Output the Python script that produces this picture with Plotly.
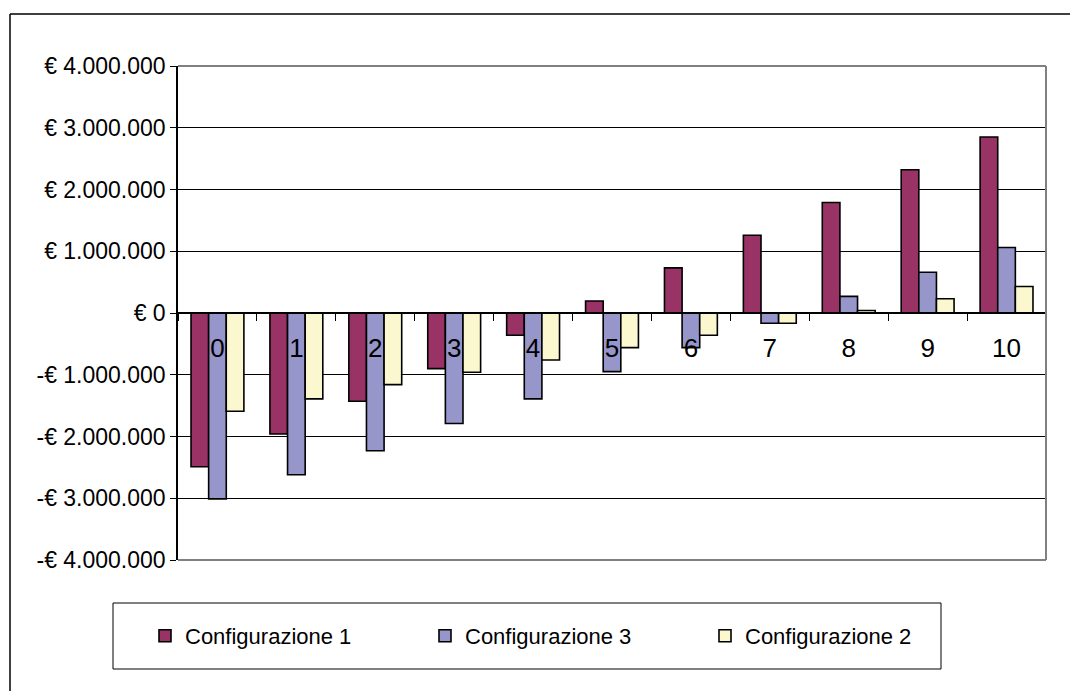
import plotly.graph_objects as go

# ── data ──────────────────────────────────────────────────
categories = ["0", "1", "2", "3", "4", "5", "6", "7", "8", "9", "10"]

config_1 = [-2490000, -1960000, -1430000, -900000, -360000, 195000,
            730000, 1260000, 1790000, 2320000, 2850000]
config_3 = [-3010000, -2620000, -2230000, -1790000, -1390000, -950000,
            -560000, -165000, 270000, 660000, 1060000]
config_2 = [-1590000, -1390000, -1160000, -960000, -760000, -560000,
            -360000, -165000, 40000, 230000, 430000]

y_tickvals = [4000000, 3000000, 2000000, 1000000, 0,
              -1000000, -2000000, -3000000, -4000000]
y_ticktext = ["€ 4.000.000", "€ 3.000.000", "€ 2.000.000", "€ 1.000.000", "€ 0",
              "-€ 1.000.000", "-€ 2.000.000", "-€ 3.000.000", "-€ 4.000.000"]

# ── geometry (page pixels; the page body adds an 8px offset) ──
OFF = 8
W, H = 1078 - OFF, 691 - OFF
PL, PR, PT, PB = 178, 1046, 66, 560
FONT = "Liberation Sans, Arial, sans-serif"


def px(x):
    return (x - PL) / (PR - PL)


def py(y):
    return (PB - y) / (PB - PT)


series = [
    ("Configurazione 1", config_1, "#993366"),
    ("Configurazione 3", config_3, "#9696CA"),
    ("Configurazione 2", config_2, "#FBF8CF"),
]

fig = go.Figure()
for name, vals, color in series:
    fig.add_trace(go.Bar(
        x=categories, y=vals, name=name,
        marker=dict(color=color, line=dict(color="black", width=1.6)),
    ))

GRAY = "#808080"
shapes = [
    # plot area border (top, right, bottom) in gray
    dict(type="line", xref="paper", yref="paper", x0=0, x1=1, y0=1, y1=1,
         line=dict(color=GRAY, width=2), layer="above"),
    dict(type="line", xref="paper", yref="paper", x0=1, x1=1, y0=0, y1=1,
         line=dict(color=GRAY, width=2), layer="above"),
    dict(type="line", xref="paper", yref="paper", x0=0, x1=1, y0=0, y1=0,
         line=dict(color=GRAY, width=2), layer="above"),
    # legend box
    dict(type="rect", xref="paper", yref="paper",
         x0=px(113), x1=px(941), y0=py(669), y1=py(603),
         line=dict(color="black", width=1)),
    # outer chart frame (left and top edges)
    dict(type="line", xref="paper", yref="paper",
         x0=px(10), x1=px(10), y0=py(14), y1=py(700),
         line=dict(color="black", width=1.5)),
    dict(type="line", xref="paper", yref="paper",
         x0=px(10), x1=px(1090), y0=py(14), y1=py(14),
         line=dict(color="black", width=1.5)),
]

fig.update_layout(
    width=W, height=H,
    margin=dict(l=PL - OFF, r=1078 - PR, t=PT - OFF, b=691 - PB),
    paper_bgcolor="white", plot_bgcolor="white",
    font=dict(family=FONT, size=22, color="black"),
    barmode="group", bargap=0.33, bargroupgap=0,
    showlegend=True,
    legend=dict(
        orientation="h", x=px(145), y=py(636), xanchor="left", yanchor="middle",
        entrywidth=235, entrywidthmode="pixels",
        font=dict(family=FONT, size=22, color="black"),
        bgcolor="rgba(0,0,0,0)", borderwidth=0,
    ),
    shapes=shapes,
)

fig.update_xaxes(
    type="category", anchor="free", position=0.5,
    showline=True, linecolor="black", linewidth=1.5,
    ticks="outside", tickson="boundaries", ticklen=7, tickcolor="black",
    tickfont=dict(family=FONT, size=26, color="black"),
    ticklabelstandoff=12,
    showgrid=False, zeroline=False, fixedrange=True,
)
fig.update_yaxes(
    range=[-4000000, 4000000],
    tickvals=y_tickvals, ticktext=y_ticktext,
    showgrid=True, gridcolor="black", gridwidth=1,
    zeroline=False,
    showline=True, linecolor="black", linewidth=1.5,
    ticks="outside", ticklen=6, tickcolor="black",
    tickfont=dict(family=FONT, size=23, color="black"),
)

fig.write_html("out.html")
